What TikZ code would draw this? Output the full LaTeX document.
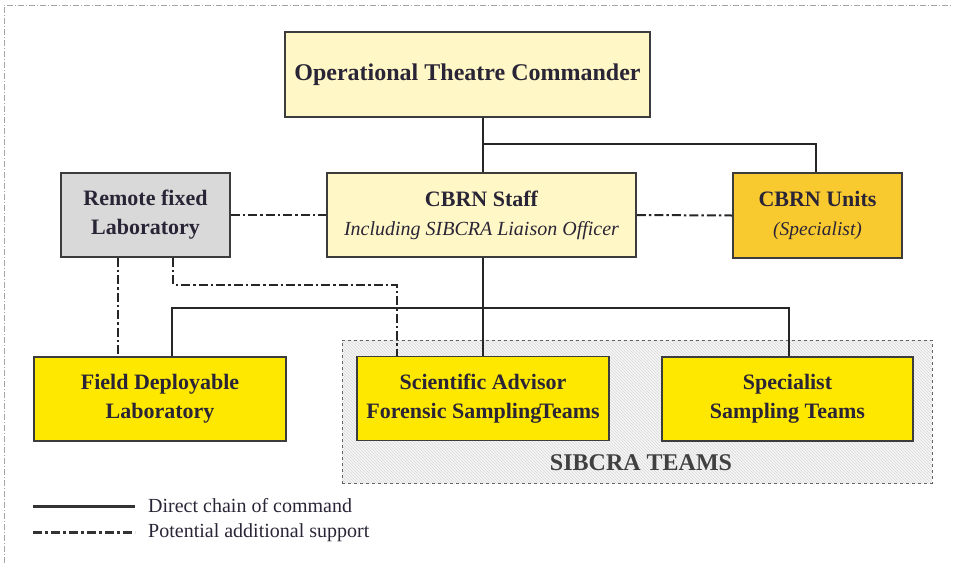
\documentclass[tikz,border=0pt]{standalone}
\usepackage{fontspec}
\setmainfont{Liberation Serif}
\usetikzlibrary{patterns}
\definecolor{txt}{HTML}{2A2536}
\definecolor{edge}{HTML}{3C3C3C}
\definecolor{cream}{HTML}{FFF8C6}
\definecolor{grayfill}{HTML}{D9D9D9}
\definecolor{gold}{HTML}{F9C930}
\definecolor{yel}{HTML}{FFE800}
\tikzset{
  box/.style={draw=edge, line width=1.5pt, text=txt, align=center, inner sep=0pt},
  cmd/.style={draw=black!85, line width=2pt},
  supp/.style={draw=black!85, line width=2pt, dash pattern=on 9pt off 3pt on 2.5pt off 3pt},
  bigb/.style={font=\fontsize{22}{29}\selectfont\bfseries},
}
\begin{document}
\begin{tikzpicture}[x=1pt,y=-1pt]
\useasboundingbox (0,0) rectangle (953,563);
% outer frame
\draw[gray!70, line width=0.8pt, dash pattern=on 6pt off 2pt on 1pt off 2pt] (4,563) -- (4,5) -- (953,5);
% SIBCRA teams background
\fill[gray!7] (342,340) rectangle (932,483);
\path[pattern=north west lines, pattern color=gray!30] (342,340) rectangle (932,483);
\node[draw=edge!80, dashed, line width=0.8pt, minimum width=590pt, minimum height=143pt, inner sep=0pt] (teams) at (637,411.5) {};
\node[text=black!75, font=\fontsize{24}{28}\selectfont\bfseries] (teamslbl) at (641,463) {SIBCRA TEAMS};
% boxes
\node[box, fill=cream, minimum width=365pt, minimum height=85pt, font=\fontsize{24}{29}\selectfont\bfseries] (otc) at (467.5,74.5) {Operational Theatre Commander};
\node[box, fill=cream, minimum width=309pt, minimum height=84pt, bigb] (staff) at (481.5,215) {CBRN Staff\\{\fontsize{20}{29}\selectfont\mdseries\itshape Including SIBCRA Liaison Officer}};
\node[box, fill=grayfill, minimum width=169pt, minimum height=84pt, bigb] (remote) at (145.5,215) {Remote fixed\\Laboratory};
\node[box, fill=gold, minimum width=169pt, minimum height=85pt, bigb] (units) at (817.5,215.5) {CBRN Units\\{\fontsize{19.5}{29}\selectfont\mdseries\itshape (Specialist)}};
\node[box, fill=yel, minimum width=252pt, minimum height=84pt, bigb] (field) at (160,399) {Field Deployable\\Laboratory};
\node[box, fill=yel, minimum width=252pt, minimum height=84pt, bigb] (sci) at (483,398.5) {Scientific Advisor\\Forensic Sampling\hspace{-2pt}Teams};
\node[box, fill=yel, minimum width=251pt, minimum height=84pt, bigb] (spec) at (787.5,399) {Specialist\\Sampling Teams};
% command lines
\draw[cmd] (otc.south -| staff.north) ++(1.5,0) coordinate (otcb) -- (otcb |- staff.north);
\draw[cmd] (otcb) ++(0,26) -| ([xshift=-1.5pt]units.north);
\draw[cmd] ([xshift=1.5pt]staff.south) -- ([xshift=1.5pt]staff.south |- sci.north);
\draw[cmd] ([xshift=12pt]field.north) -- ++(0,-48) -| ([xshift=1.5pt]spec.north);
% support lines
\draw[supp] (remote.east) -- (staff.west);
\draw[supp] (staff.east) -- (units.west);
\draw[supp] ([xshift=-27.5pt]remote.south) -- ([xshift=-27.5pt]remote.south |- field.north);
\draw[supp] ([xshift=27.5pt]remote.south) -- ++(0,27) -| ([xshift=-86pt]sci.north);
% legend
\coordinate (l1a) at (33,506);
\coordinate (l1b) at (135,506);
\coordinate (l2a) at (33,532);
\coordinate (l2b) at (135,532);
\draw[black!80, line width=3pt] (l1a) -- (l1b);
\draw[black!80, line width=3pt, dash pattern=on 9pt off 3pt on 3pt off 3pt] (l2a) -- (l2b);
\node[anchor=west, text=txt, font=\fontsize{20}{24}\selectfont, inner sep=0pt] (lg1) at (148,506) {Direct chain of command};
\node[anchor=west, text=txt, font=\fontsize{20}{24}\selectfont, inner sep=0pt] (lg2) at (148,533) {Potential additional support};
\end{tikzpicture}
\end{document}
